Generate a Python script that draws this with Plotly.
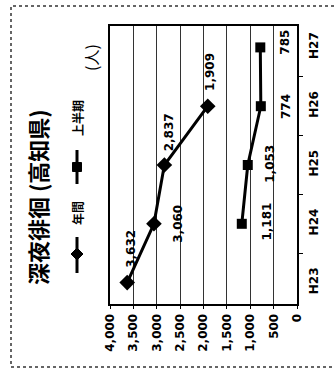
import plotly.graph_objects as go

# 深夜徘徊（高知県）: annual and first-half counts by fiscal year
years = ["H23", "H24", "H25", "H26", "H27"]
annual = [3632, 3060, 2837, 1909, None]
first_half = [None, 1181, 1053, 774, 785]
value_ticks = [0, 500, 1000, 1500, 2000, 2500, 3000, 3500, 4000]

W, H = 334, 383
ML, MR, MT, MB = 110, 37, 26, 79
PW, PH = W - ML - MR, H - MT - MB


def px(xp):
    return (xp - ML) / PW


def py(yp):
    return (H - MB - yp) / PH


NUM_FONT = dict(family="DejaVu Sans", size=12, color="black", weight="bold")
JP_FONT = "Noto Sans CJK JP"

fig = go.Figure()
line_style = dict(color="black", width=3)
fig.add_trace(go.Scatter(x=annual, y=years, mode="lines+markers", line=line_style,
                         marker=dict(symbol="diamond", size=12, color="black"),
                         connectgaps=False, showlegend=False))
fig.add_trace(go.Scatter(x=first_half, y=years, mode="lines+markers", line=line_style,
                         marker=dict(symbol="square", size=10, color="black"),
                         connectgaps=False, showlegend=False))

# value labels next to each point (pixel offsets)
annual_shift = [(3, 34), (24, 0), (5, 33), (2, 34), None]
half_shift = [None, (25, 2), (22, 1), (25, 0), (25, 5)]
annotations = []
for vals, shifts in ((annual, annual_shift), (first_half, half_shift)):
    for cat, v, s in zip(years, vals, shifts):
        if v is None:
            continue
        annotations.append(dict(x=v, y=cat, xref="x", yref="y", text=f"{v:,}",
                                showarrow=False, textangle=-90, xshift=s[0], yshift=s[1],
                                xanchor="center", yanchor="middle", font=NUM_FONT))


def side_text(x, y, text, size, weight="bold"):
    return dict(x=px(x), y=py(y), xref="paper", yref="paper", text=text,
                showarrow=False, textangle=-90, xanchor="center", yanchor="middle",
                font=dict(family=JP_FONT, size=size, color="black", weight=weight))


# title, unit and legend text
annotations += [
    side_text(37, 197, "深夜徘徊 (高知県)", 22),
    side_text(91, 58, "(人)", 16, "normal"),
    side_text(77, 213, "年間", 12),
    side_text(77, 118, "上半期", 12),
]

shapes = [
    # dotted outer frame
    dict(type="rect", xref="paper", yref="paper", x0=px(11), x1=px(340), y0=py(367), y1=py(6),
         line=dict(color="#333", width=1.5, dash="dot"), layer="below"),
    # legend lines
    dict(type="line", xref="paper", yref="paper", x0=px(77), x1=px(77), y0=py(273), y1=py(237),
         line=dict(color="black", width=3)),
    dict(type="line", xref="paper", yref="paper", x0=px(77), x1=px(77), y0=py(184), y1=py(150),
         line=dict(color="black", width=3)),
    # legend markers
    dict(type="path", xref="paper", yref="paper",
         path=f"M {px(71)} {py(254)} L {px(77)} {py(248)} L {px(83)} {py(254)} L {px(77)} {py(260)} Z",
         fillcolor="black", line=dict(color="black", width=1)),
    dict(type="rect", xref="paper", yref="paper", x0=px(72.5), x1=px(81.5), y0=py(171.5), y1=py(162.5),
         fillcolor="black", line=dict(color="black", width=1)),
]

fig.update_layout(
    width=W, height=H,
    margin=dict(l=ML, r=MR, t=MT, b=MB),
    paper_bgcolor="white", plot_bgcolor="white",
    showlegend=False,
    annotations=annotations, shapes=shapes,
    xaxis=dict(range=[4000, 0], tickvals=value_ticks, tickformat=",d",
               showgrid=True, gridcolor="#333", gridwidth=1,
               showline=True, linecolor="black", linewidth=2, mirror=True,
               ticks="outside", ticklen=3, tickcolor="black",
               tickangle=-90, tickfont=NUM_FONT, zeroline=False),
    yaxis=dict(type="category", categoryorder="array", categoryarray=years,
               side="right", tickson="boundaries", ticks="outside", ticklen=4,
               tickcolor="black", showgrid=False, ticklabelstandoff=5,
               showline=True, linecolor="black", linewidth=2, mirror=True,
               tickangle=-90, tickfont=NUM_FONT, zeroline=False),
)

fig.write_html("out.html")
